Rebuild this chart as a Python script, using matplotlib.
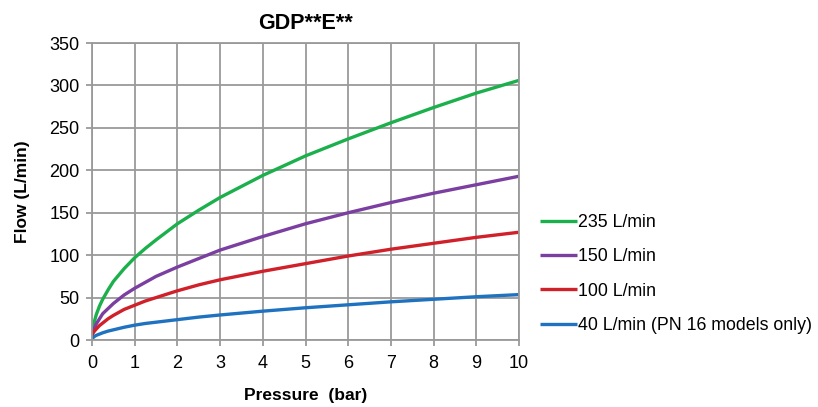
import matplotlib
matplotlib.use("Agg")
import matplotlib.pyplot as plt
from matplotlib.ticker import MultipleLocator

plt.rcParams['font.family'] = ['Liberation Sans', 'DejaVu Sans']

pressure = [0, 0.02, 0.05, 0.1, 0.175, 0.25, 0.375, 0.5, 0.75, 1, 1.25, 1.5, 2, 2.5, 3, 4, 5, 6, 7, 8, 9, 10]
flow_235 = [3, 13, 21, 30, 40, 48, 59, 69, 84, 97, 108, 118, 137, 153, 168, 194, 217, 237, 256, 274, 291, 306]
flow_150 = [5, 9, 13, 19, 25, 31, 37, 43, 53, 61, 68, 75, 86, 96, 106, 122, 137, 150, 162, 173, 183, 193]
flow_100 = [5, 8, 10, 13, 17, 20, 25, 29, 36, 41, 46, 50, 58, 65, 71, 81, 90, 99, 107, 114, 121, 127]
flow_40 = [1, 2.5, 4, 5.5, 7, 8.5, 10.5, 12, 15, 17.5, 19.5, 21, 24, 27, 29.5, 34, 38, 41.5, 45, 48, 51, 53.5]

labels = ['235 L/min', '150 L/min', '100 L/min', '40 L/min (PN 16 models only)']
colors = ['#1cb04c', '#7a3fa0', '#d0202a', '#1f72c0']
series = [flow_235, flow_150, flow_100, flow_40]

fig = plt.figure(figsize=(8.18, 4.07), dpi=100)
ax = fig.add_axes([0.1125, 0.1646, 0.522, 0.7297])

lines = []
for s, c, l in zip(series, colors, labels):
    ln, = ax.plot(pressure, s, color=c, lw=2.4, label=l, solid_capstyle='butt',
                  solid_joinstyle='round')
    lines.append(ln)

ax.set_xlim(0, 10)
ax.set_ylim(0, 350)
ax.xaxis.set_major_locator(MultipleLocator(1))
ax.yaxis.set_major_locator(MultipleLocator(50))
ax.grid(True, color='#9a9a9a', lw=1.3)
ax.set_axisbelow(True)
for sp in ax.spines.values():
    sp.set_color('#9a9a9a')
    sp.set_linewidth(1.3)
ax.tick_params(axis='both', color='#9a9a9a', length=4, width=1.3, labelsize=13, labelcolor='black')
ax.tick_params(axis='x', pad=7)
ax.tick_params(axis='y', pad=5)

ax.set_title('GDP**E**', fontsize=15.5, fontweight='bold', pad=10)
ax.set_xlabel('Pressure  (bar)', fontsize=12.5, fontweight='bold', labelpad=11)
ax.set_ylabel('Flow (L/min)', fontsize=12.5, fontweight='bold', labelpad=14)

fig.legend(handles=lines, labels=labels, loc='upper left', bbox_to_anchor=(0.651, 0.492),
           frameon=False, fontsize=12.8, handlelength=2.1, handletextpad=0.05,
           labelspacing=0.98, borderaxespad=0)

fig.savefig('out.png', dpi=100)
